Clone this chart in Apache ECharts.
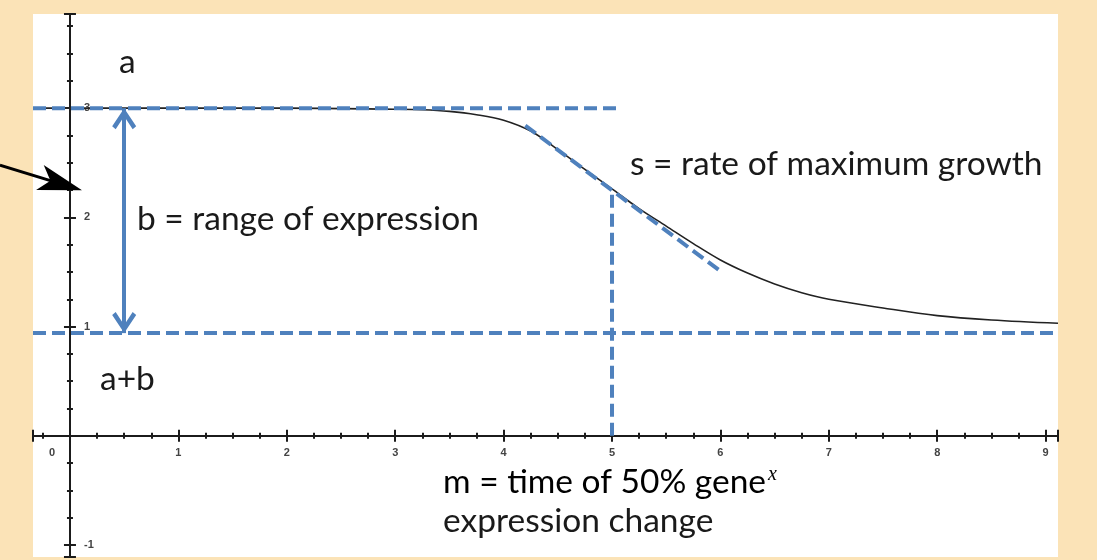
<!DOCTYPE html>
<html>
<head>
<meta charset="utf-8">
<style>
  html, body { margin: 0; padding: 0; background: #FBE3B7; }
  #chart { width: 1097px; height: 560px; }
</style>
<script src="https://cdn.jsdelivr.net/npm/echarts@6/dist/echarts.min.js"></script>
</head>
<body>
<div id="chart"></div>
<script>
// axis extents (the white panel)
const xRange = [-0.341, 9.114];
const yRange = [-1.11, 3.862];

// expression curve
const curveX = [-0.341, 1, 2, 3, 3.25, 3.5, 3.75, 4, 4.25, 4.5, 4.75, 5, 5.25, 5.5, 5.75, 6, 6.25, 6.5, 6.75, 7, 7.5, 8, 8.5, 9.114];
const curveY = [3, 3, 3, 2.99, 2.985, 2.97, 2.94, 2.89, 2.79, 2.62, 2.44, 2.26, 2.08, 1.92, 1.76, 1.61, 1.49, 1.39, 1.31, 1.25, 1.17, 1.1, 1.06, 1.03];

// guide lines
const levelA = 3;          // a
const levelAB = 0.94;      // a+b (drawn a touch under 1 in the picture)
const levelAEnd = 5.09;    // where the dashed "a" line stops
const midX = 5;            // m
const midY = 2.26;
const slopeFrom = [4.2, 2.84];
const slopeTo = [6.01, 1.5];
const rangeArrowX = 0.5;
const pointerFrom = [-0.646, 2.477];
const pointerTo = [0.111, 2.248];

const blue = "#4F81BD";
const ink = "#1b1b1b";

const W = 1097, H = 560;
const grid = { left: 33, right: 39, top: 14, bottom: 3 };
const gridW = W - grid.left - grid.right;
const gridH = H - grid.top - grid.bottom;
// move the axes from the panel edges onto the zero lines
const xAxisShift = -((0 - yRange[0]) / (yRange[1] - yRange[0])) * gridH;
const yAxisShift = -((0 - xRange[0]) / (xRange[1] - xRange[0])) * gridW;

const chart = echarts.init(document.getElementById("chart"));

const makeAxis = (pos, range, split, shift, inside, labels) => ({
  type: "value",
  position: pos,
  min: range[0],
  max: range[1],
  splitNumber: split,
  offset: shift,
  axisLine: { onZero: false, lineStyle: { color: ink, width: 2 } },
  splitLine: { show: false },
  axisTick: { inside: inside, length: 6, lineStyle: { color: ink, width: 2 } },
  minorTick: { show: true, splitNumber: 4, length: 3, lineStyle: { color: ink, width: 2 } },
  axisLabel: labels,
});

const labelFont = { color: "#444", fontSize: 11, fontWeight: "bold", fontFamily: "Liberation Sans" };

const xLabel = Object.assign({}, labelFont, {
  show: true,
  margin: 12,
  showMinLabel: false,
  showMaxLabel: false,
  formatter: (v) => (v === 0 ? "{z|0}" : Number.isInteger(v) ? String(v) : ""),
  rich: { z: Object.assign({ padding: [0, 36, 0, 0] }, labelFont) },
});

const yLabel = Object.assign({}, labelFont, {
  show: true,
  inside: true,
  margin: 14,
  showMinLabel: false,
  showMaxLabel: false,
  formatter: (v) => (v !== 0 && Number.isInteger(v) ? String(v) : ""),
});

const dashed = (data) => ({
  type: "line",
  data: data,
  symbol: "none",
  silent: true,
  z: 5,
  lineStyle: { color: blue, width: 4, type: [13, 6] },
});

const chevron = "path://M12,0 L24,18 L20.5,21 L12,8 L3.5,21 L0,18 Z";

const txt = (text, x, y) => ({
  type: "text",
  style: {
    text: text, x: x, y: y,
    fontSize: 33.5, fontFamily: "Lato", fill: "#1a1a1a",
    align: "left", verticalAlign: "middle",
  },
});

chart.setOption({
  animation: false,
  grid: Object.assign({ show: true, backgroundColor: "#ffffff", borderWidth: 0, outerBoundsMode: "none" }, grid),
  xAxis: [
    makeAxis("bottom", xRange, 10, xAxisShift, false, xLabel),
    makeAxis("bottom", xRange, 10, xAxisShift, true, { show: false }),
  ],
  yAxis: [
    makeAxis("left", yRange, 5, yAxisShift, false, yLabel),
    makeAxis("left", yRange, 5, yAxisShift, true, { show: false }),
  ],
  series: [
    {
      type: "line",
      data: curveX.map((x, i) => [x, curveY[i]]),
      smooth: 0.35,
      symbol: "none",
      silent: true,
      z: 3,
      lineStyle: { color: "#222", width: 1.6 },
    },
    dashed([[xRange[0], levelA], [levelAEnd, levelA]]),
    dashed([[xRange[0], levelAB], [xRange[1], levelAB]]),
    dashed([[midX, 0], [midX, midY]]),
    dashed([slopeFrom, slopeTo]),
    {
      type: "line",
      data: [],
      silent: true,
      z: 6,
      markLine: {
        silent: true,
        animation: false,
        label: { show: false },
        emphasis: { disabled: true },
        data: [
          [
            { coord: [rangeArrowX, levelAB], symbol: chevron, symbolSize: [24, 21], symbolOffset: [0, 10.5],
              lineStyle: { color: blue, width: 4, type: "solid" } },
            { coord: [rangeArrowX, levelA], symbol: chevron, symbolSize: [24, 21], symbolOffset: [0, 10.5] },
          ],
        ],
      },
    },
  ],
});

// black pointer arrow: it runs off the panel, so it is placed with the
// grid's own scale and drawn unclipped
const p0 = chart.convertToPixel({ gridIndex: 0 }, pointerFrom);
const p1 = chart.convertToPixel({ gridIndex: 0 }, pointerTo);
const dx = p1[0] - p0[0], dy = p1[1] - p0[1];
const len = Math.hypot(dx, dy);
const ux = dx / len, uy = dy / len;
const nx = -uy, ny = ux;
const headLen = 44, headHalf = 13;
const bx = p1[0] - ux * headLen, by = p1[1] - uy * headLen;
const head = [
  [p1[0], p1[1]],
  [bx + nx * headHalf, by + ny * headHalf],
  [p1[0] - ux * headLen * 0.75, p1[1] - uy * headLen * 0.75],
  [bx - nx * headHalf, by - ny * headHalf],
];

chart.setOption({
  graphic: [
    txt("a", 119, 62),
    txt("b = range of expression", 137, 219),
    txt("s = rate of maximum growth", 630, 164),
    txt("a+b", 100, 379),
    {
      type: "text",
      style: {
        text: "{n|m = time of 50% gene}{s|x}",
        x: 443, y: 482, verticalAlign: "middle", align: "left",
        rich: {
          n: { fontSize: 33.5, fontFamily: "Lato", color: "#1a1a1a" },
          s: { fontSize: 20, fontFamily: "Liberation Serif", fontStyle: "italic", color: "#1a1a1a", verticalAlign: "top", padding: [0, 0, 14, 2] },
        },
      },
    },
    txt("expression change", 443, 521),
    {
      type: "line",
      silent: true,
      z: 20,
      shape: { x1: p0[0], y1: p0[1], x2: p1[0] - ux * headLen * 0.5, y2: p1[1] - uy * headLen * 0.5 },
      style: { stroke: "#000", lineWidth: 3 },
    },
    {
      type: "polygon",
      silent: true,
      z: 20,
      shape: { points: head },
      style: { fill: "#000" },
    },
  ],
});
</script>
</body>
</html>
